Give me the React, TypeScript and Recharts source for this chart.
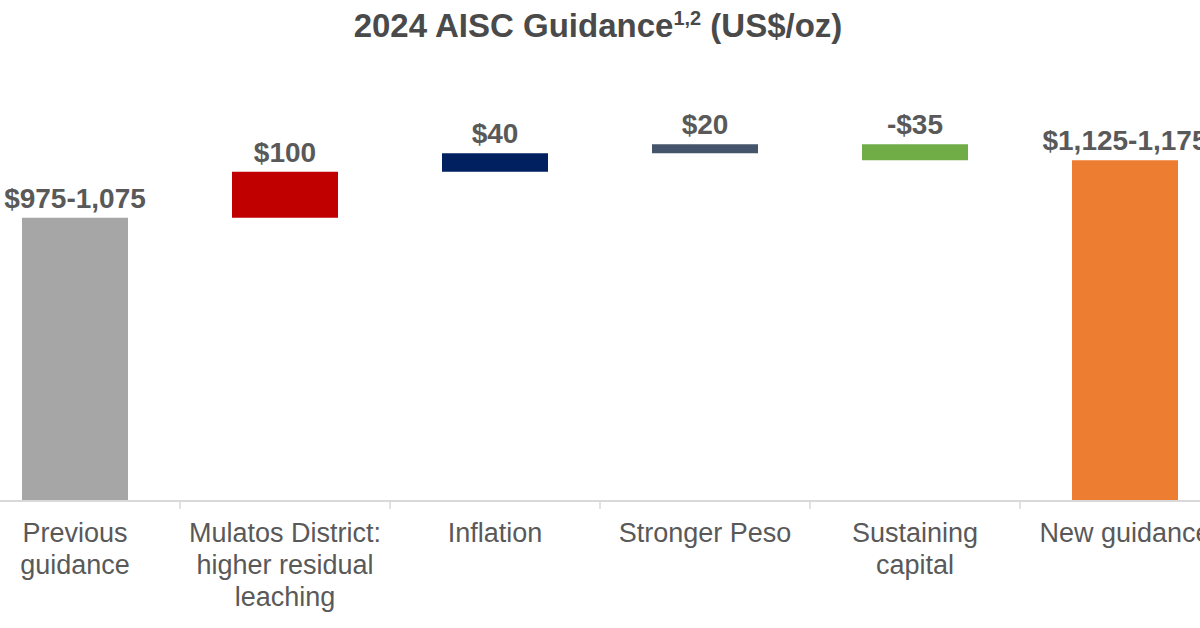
import { BarChart, Bar, XAxis, YAxis, Cell, LabelList } from 'recharts';

const categories = [
  ['Previous', 'guidance'],
  ['Mulatos District:', 'higher residual', 'leaching'],
  ['Inflation'],
  ['Stronger Peso'],
  ['Sustaining', 'capital'],
  ['New guidance'],
];
const startMid = 1025;
const deltas = [100, 40, 20, -35];
const valueLabels = ['$975-1,075', '$100', '$40', '$20', '-$35', '$1,125-1,175'];
const barColors = ['#a6a6a6', '#c00000', '#002060', '#44546a', '#70ad47', '#ed7d31'];

const AXIS_MIN = 410;
const AXIS_MAX = 1320;
const CHART_W = 1260;
const BAND = CHART_W / categories.length;
const TEXT = '#595959';
const FONT = '"Liberation Sans", Arial, sans-serif';

function buildRows() {
  const rows: { name: string; range: [number, number]; label: string }[] = [];
  rows.push({ name: categories[0].join(' '), range: [AXIS_MIN, startMid], label: valueLabels[0] });
  let running = startMid;
  deltas.forEach((d, i) => {
    const next = running + d;
    rows.push({
      name: categories[i + 1].join(' '),
      range: [Math.min(running, next), Math.max(running, next)],
      label: valueLabels[i + 1],
    });
    running = next;
  });
  rows.push({ name: categories[5].join(' '), range: [AXIS_MIN, running], label: valueLabels[5] });
  return rows;
}

const data = buildRows();

function CategoryTick(props: any) {
  const { x, y, index } = props;
  const lines = categories[index] ?? [];
  return (
    <g>
      <text x={x} y={y + 41} textAnchor="middle" fill={TEXT} fontSize={27} fontFamily={FONT}>
        {lines.map((l, i) => (
          <tspan key={i} x={x} dy={i === 0 ? 0 : 32}>
            {l}
          </tspan>
        ))}
      </text>
      {index < categories.length - 1 && (
        <line x1={x + BAND / 2} x2={x + BAND / 2} y1={y} y2={y + 8} stroke="#d9d9d9" strokeWidth={1.5} />
      )}
    </g>
  );
}

export default function App() {
  return (
    <div
      style={{
        position: 'fixed',
        left: 0,
        top: 0,
        width: 1200,
        height: 628,
        overflow: 'hidden',
        background: '#fff',
        fontFamily: FONT,
      }}
    >
      <div
        style={{
          position: 'absolute',
          top: 8,
          left: -2,
          width: 1200,
          textAlign: 'center',
          fontSize: 33,
          fontWeight: 'bold',
          color: '#4a4a4a',
          lineHeight: '36px',
        }}
      >
        2024 AISC Guidance<sup style={{ fontSize: 20, lineHeight: 0 }}>1,2</sup> (US$/oz)
      </div>
      <div style={{ position: 'absolute', left: -30, top: 0 }}>
        <BarChart width={CHART_W} height={628} data={data} margin={{ top: 82, right: 0, bottom: 7, left: 0 }}>
          <YAxis hide domain={[AXIS_MIN, AXIS_MAX]} allowDataOverflow />
          <XAxis
            dataKey="name"
            interval={0}
            height={120}
            tickSize={0}
            tickMargin={0}
            tickLine={false}
            axisLine={{ stroke: '#d9d9d9', strokeWidth: 2 }}
            tick={<CategoryTick />}
          />
          <Bar dataKey="range" barSize={106} isAnimationActive={false}>
            {data.map((_, i) => (
              <Cell key={i} fill={barColors[i]} />
            ))}
            <LabelList
              dataKey="label"
              position="top"
              offset={10}
              fill={TEXT}
              fontSize={28}
              fontWeight="bold"
              fontFamily={FONT}
            />
          </Bar>
        </BarChart>
      </div>
    </div>
  );
}
